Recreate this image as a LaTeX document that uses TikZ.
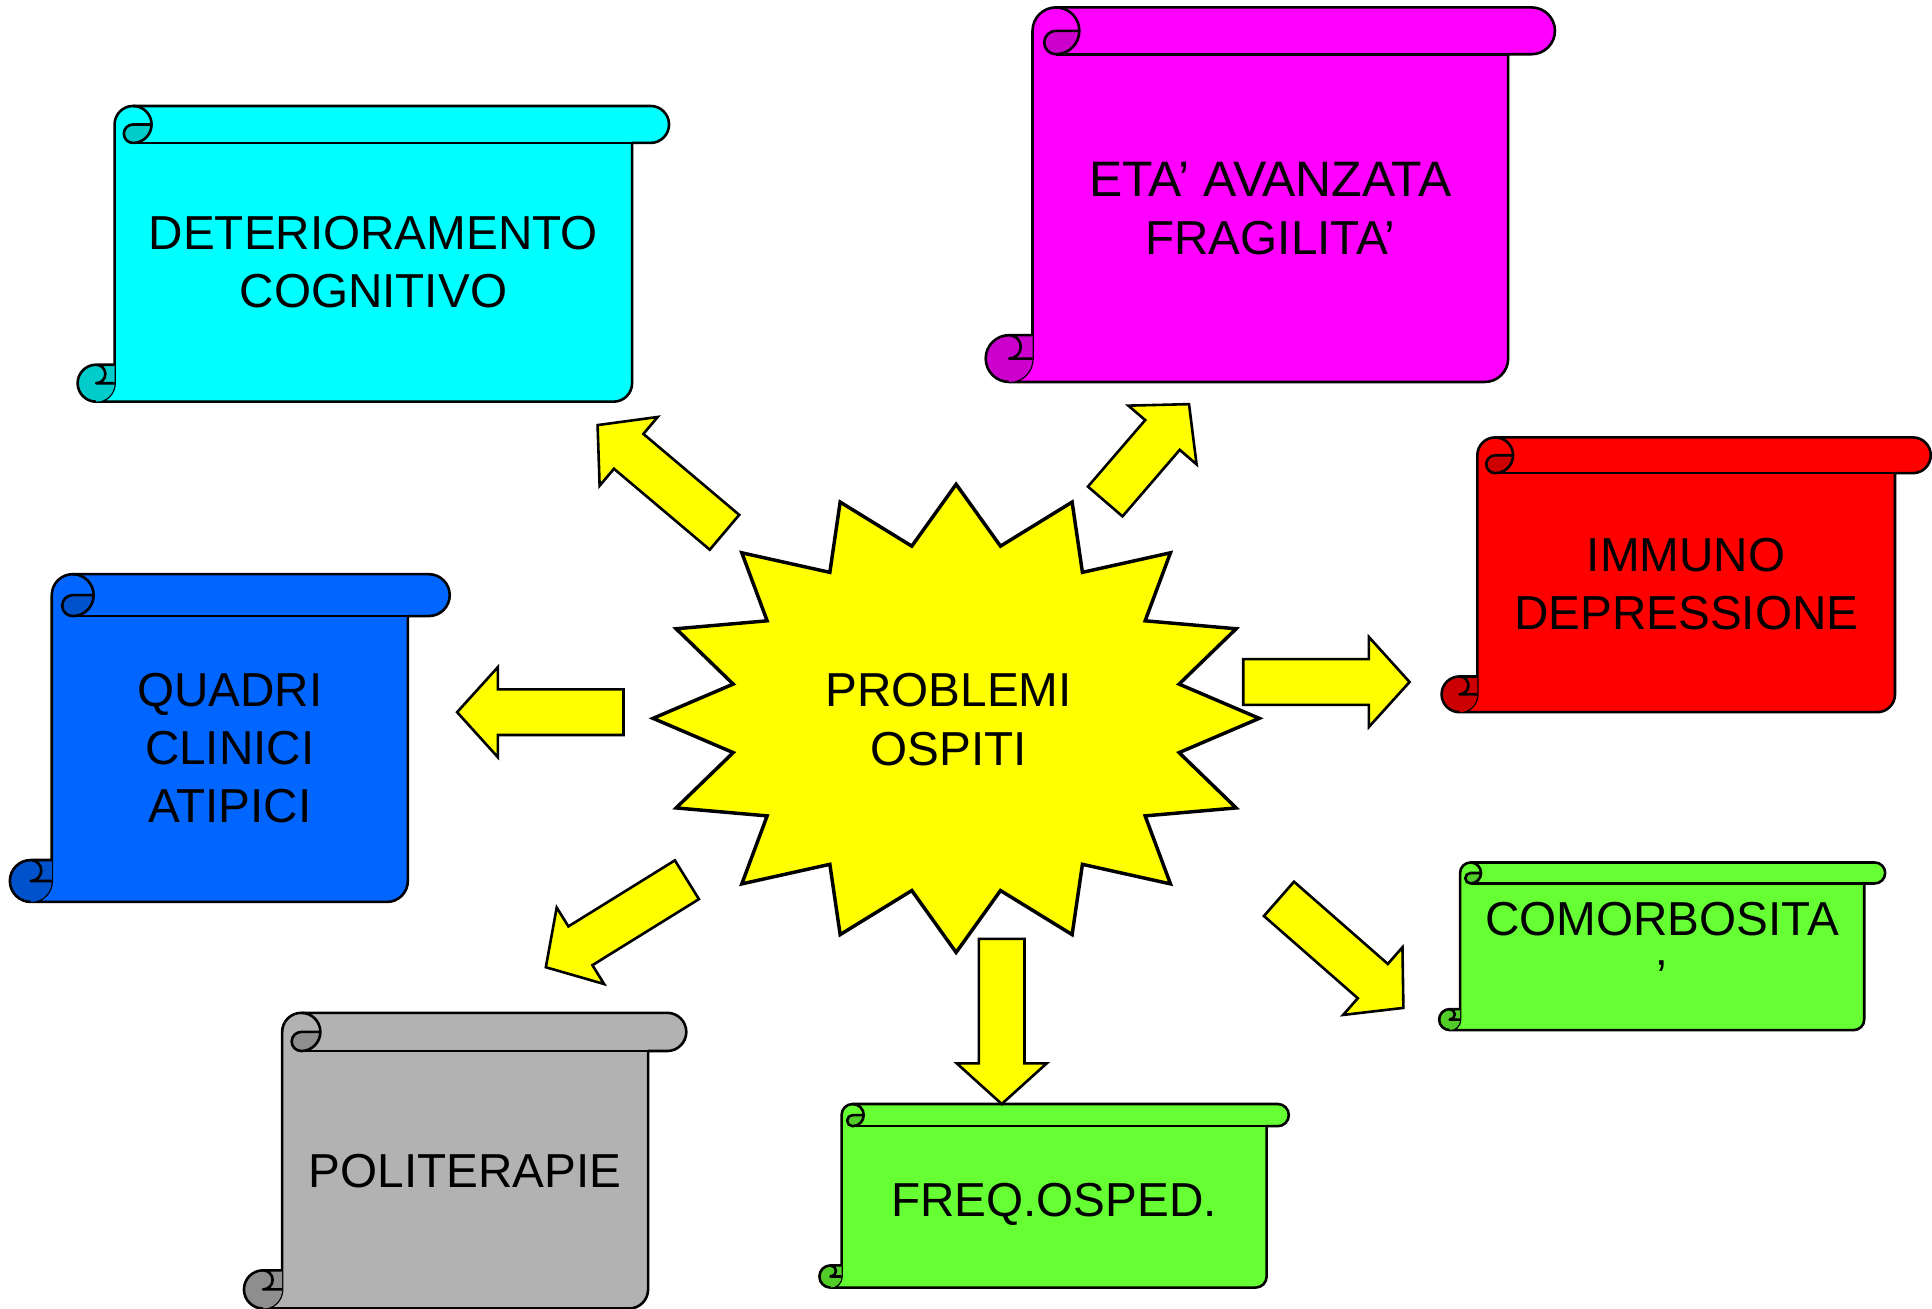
\documentclass[tikz,border=0pt]{standalone}
\usepackage{fontspec}
\setmainfont{Liberation Sans}
\usetikzlibrary{calc}

\definecolor{rollcyan}{HTML}{00FFFF}
\definecolor{rollmag}{HTML}{FF00FF}
\definecolor{rollred}{HTML}{FF0000}
\definecolor{rollblue}{HTML}{0066FF}
\definecolor{rollgreen}{HTML}{66FF33}
\definecolor{rollgray}{HTML}{B2B2B2}
\definecolor{staryellow}{HTML}{FFFF00}

\tikzset{
  rollline/.style={draw=black, line width=0.6pt, line join=round},
  rolltext/.style={align=center, inner sep=0pt, font=\fontsize{11}{13.4}\selectfont},
  fatarrow/.style={fill=staryellow, draw=black, line width=0.6pt, line join=miter},
  burst/.style={fill=staryellow, draw=black, line width=0.8pt, line join=miter}
}

% 卷轴: #1 名称, #2 x, #3 y (左上角), #4 宽, #5 高, #6 卷边, #7 颜色, #8 文字, #9 文字偏移
\newcommand{\scroll}[9]{%
  \begin{scope}[shift={(#2,#3)}]
    \pgfmathsetmacro\scW{#4}
    \pgfmathsetmacro\scH{#5}
    \pgfmathsetmacro\scB{#6}
    \pgfmathsetmacro\scR{#6/2}
    \pgfmathsetmacro\scQ{#6/4}
    % 主体
    \filldraw[rollline, fill=#7] (\scR,-\scH) arc (270:360:\scR) -- (\scB,-\scR)
      arc (180:90:\scR) -- ({\scW-\scR},0) arc (90:-90:\scR) -- ({\scW-\scB},-\scB)
      -- ({\scW-\scB},{-\scH+\scR}) arc (0:-90:\scR) -- cycle;
    % 卷边阴影
    \fill[#7!80!black] ({1.5*\scB},-\scR) -- ({2*\scB},-\scR) arc (0:-90:\scR) arc (270:90:\scQ) -- cycle;
    \fill[#7!80!black] (\scR,{-\scH+\scB}) -- (\scB,{-\scH+\scB}) -- (\scB,{-\scH+\scR}) arc (0:-270:\scR) -- cycle;
    % 卷边线条
    \draw[rollline] ({1.5*\scB},0) arc (90:-90:\scR) arc (270:90:\scQ) -- ({2*\scB},-\scR);
    \draw[rollline] ({1.5*\scB},-\scB) -- ({\scW-\scB},-\scB);
    \draw[rollline] (\scR,-\scH) arc (270:90:\scR) -- (\scB,{-\scH+\scB})
      (\scR,{-\scH+\scB}) arc (90:-90:\scQ) -- (\scB,{-\scH+\scR});
    % 文字
    \node[rolltext] (#1) at ({\scW/2},{-(\scB+\scH)/2+#9}) {#8};
  \end{scope}}

% 粗箭头: #1 起点, #2 终点
\newcommand{\blockarrow}[2]{%
  \coordinate (hb) at ($(#2)!0.33cm!(#1)$);
  \draw[fatarrow] ($(#1)!0.185cm!90:(#2)$) -- ($(hb)!0.185cm!90:(#2)$)
    -- ($(hb)!0.365cm!90:(#2)$) -- (#2) -- ($(hb)!0.365cm!-90:(#2)$)
    -- ($(hb)!0.185cm!-90:(#2)$) -- ($(#1)!0.185cm!-90:(#2)$) -- cycle;}

\begin{document}
\begin{tikzpicture}[x=0.01cm, y=0.01cm]

    \useasboundingbox (0,0) rectangle (1568,1062);

    % 绘制卷轴
    \scroll{cog}{63}{976}{480}{240}{30}{rollcyan}{DETERIORAMENTO\\COGNITIVO}{8}
    \scroll{eta}{800}{1056}{462}{304}{38}{rollmag}{\fontsize{11.5}{13.6}\selectfont ETA’ AVANZATA\\FRAGILITA’}{8}
    \scroll{imm}{1170}{707}{397}{223}{29}{rollred}{IMMUNO\\DEPRESSIONE}{7}
    \scroll{quad}{8}{596}{357}{266}{34}{rollblue}{QUADRI\\CLINICI\\ATIPICI}{9}
    \scroll{comor}{1168}{362}{362}{136}{17}{rollgreen}{COMORBOSITA\\’}{7}
    \scroll{freq}{665}{166}{381}{149}{18}{rollgreen}{FREQ.OSPED.}{2}
    \scroll{polit}{198}{240}{359}{240}{31}{rollgray}{POLITERAPIE}{7}

    % 绘制中间的星形
    \draw[burst] plot[samples at={0,...,31}]
      ({776+(isodd(\x)?0.75:1)*246*cos(90-11.25*\x)},
       {479+(isodd(\x)?0.75:1)*190*sin(90-11.25*\x)}) -- cycle;
    \node[rolltext] (prob) at (770,478) {PROBLEMI\\OSPITI};

    % 绘制箭头
    \foreach \n/\sx/\sy/\ex/\ey in {cog/588/630/485/717, eta/897/655/965/734,
        imm/1009/508.5/1144/508.5, quad/506/484/371/484, comor/1038/332.5/1139/244,
        freq/813/300/813/166, polit/557.5/348/443/277}
    {
        \coordinate (\n-s) at (\sx,\sy);
        \coordinate (\n-e) at (\ex,\ey);
        \blockarrow{\n-s}{\n-e}
    }
\end{tikzpicture}
\end{document}
